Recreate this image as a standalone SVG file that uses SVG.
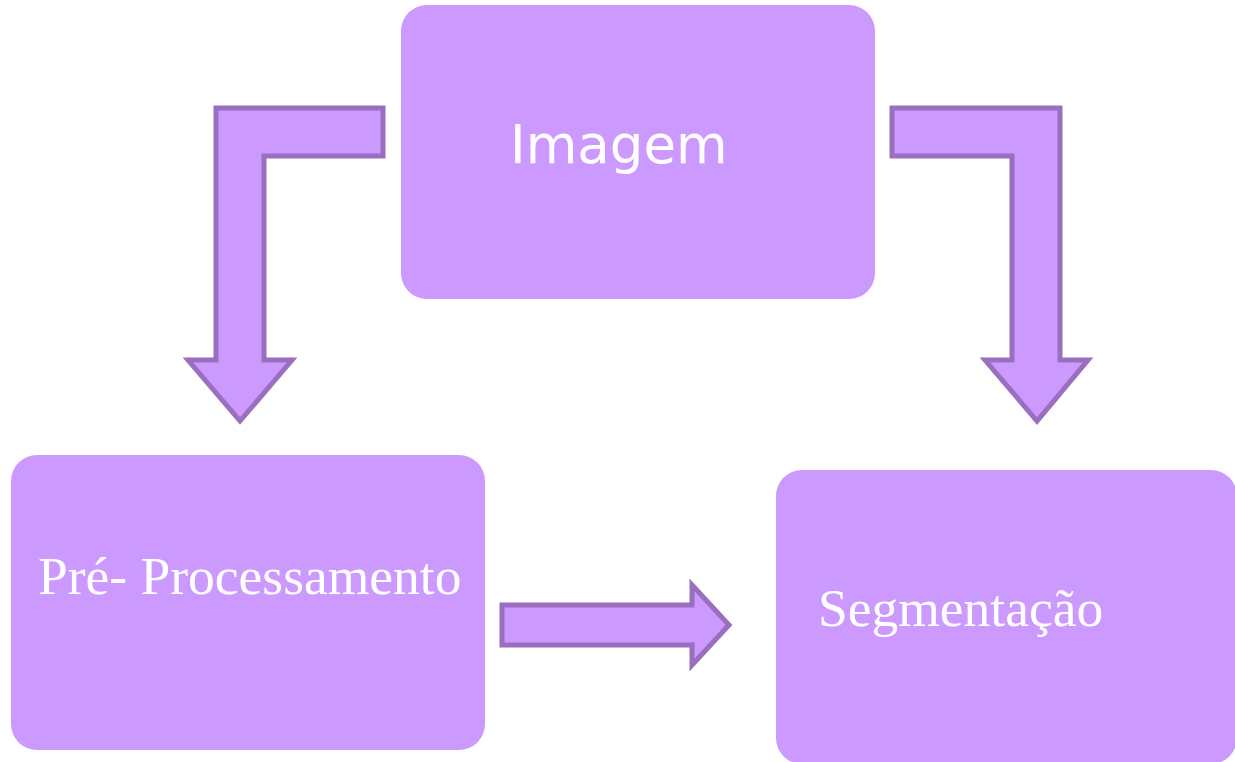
<svg xmlns="http://www.w3.org/2000/svg" width="1235" height="762" viewBox="0 0 1235 762">
<style>
.box{fill:#CC99FF;}
.arr{fill:#CC99FF;stroke:#9A6FC0;stroke-width:5;stroke-linejoin:miter;}
.sans{font-family:"DejaVu Sans",Verdana,sans-serif;font-size:53px;fill:#FFFFFF;}
.serif{font-family:"Liberation Serif","Times New Roman",serif;font-size:53.5px;fill:#FFFFFF;}
</style>
<rect width="1235" height="762" fill="#FFFFFF"/>
<g id="connectors">
<polygon class="arr" points="216,108 383,108 383,156 264,156 264,360 292,360 240,421 188,360 216,360"/>
<polygon class="arr" points="892,108 1060,108 1060,360 1088,360 1037,421 985,360 1012,360 1012,156 892,156"/>
<polygon class="arr" points="502,605 692,605 692,585 729,625 692,665 692,645 502,645"/>
</g>
<g id="imagem">
<rect class="box" x="401" y="5" width="474" height="294" rx="26" ry="26"/>
<text class="sans" x="510" y="163">Imagem</text>
</g>
<g id="pre-processamento">
<rect class="box" x="11" y="455" width="474" height="295" rx="26" ry="26"/>
<text class="serif" x="38" y="594">Pré- Processamento</text>
</g>
<g id="segmentacao">
<rect class="box" x="776" y="470" width="461" height="294" rx="26" ry="26"/>
<text class="serif" x="818" y="626">Segmentação</text>
</g>
</svg>
